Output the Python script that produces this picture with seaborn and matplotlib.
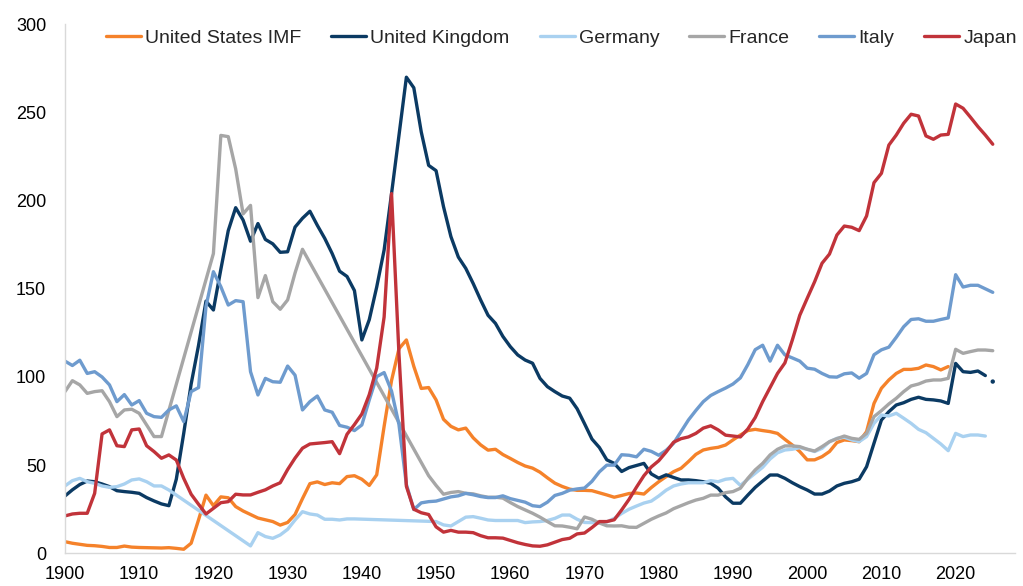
import numpy as np
import pandas as pd
import matplotlib
matplotlib.use("Agg")
import matplotlib.pyplot as plt
import seaborn as sns

nan = np.nan
years = list(range(1900, 2026))

us = [6.6, 5.7, 5.1, 4.5, 4.3, 3.9, 3.3, 3.3, 4.1, 3.5,
      3.3, 3.2, 3.1, 3.0, 3.2, 2.8, 2.3, 5.7, 19.0, 33.0,
      27.0, 32.0, 31.5, 26.5, 24.0, 22.0, 20.0, 19.0, 18.0, 16.0,
      17.5, 22.0, 31.0, 39.5, 40.5, 39.0, 40.0, 39.5, 43.5, 44.0,
      42.0, 38.5, 44.5, 72.0, 98.0, 116.0, 121.0, 106.0, 93.5, 94.0,
      87.0, 76.0, 72.0, 70.0, 71.0, 65.5, 61.5, 58.5, 59.0, 56.0,
      53.8, 51.5, 49.5, 48.3, 46.0, 42.8, 39.8, 37.9, 36.4, 35.7,
      35.7, 35.5, 34.3, 33.1, 31.8, 32.8, 33.9, 34.2, 33.6, 37.3,
      40.6, 43.5, 46.3, 48.2, 52.0, 56.1, 58.6, 59.5, 60.1, 61.4,
      64.3, 67.1, 69.6, 70.3, 69.6, 69.0, 68.0, 64.6, 61.4, 57.7,
      53.0, 53.0, 54.8, 57.7, 62.8, 64.3, 63.9, 63.3, 69.0, 85.0,
      93.6, 98.3, 102.0, 104.3, 104.3, 104.9, 106.8, 105.9, 104.0, 105.9,
      nan, nan, nan, nan, nan, nan]

uk = [32.5, 36.0, 39.0, 41.0, 40.6, 39.3, 37.8, 35.5, 35.0, 34.6,
      34.0, 31.6, 29.7, 28.0, 27.0, 42.0, 68.0, 96.0, 118.0, 143.0,
      138.0, 161.0, 183.0, 196.0, 189.0, 177.0, 187.0, 178.0, 175.5, 170.7,
      171.0, 185.0, 190.0, 194.0, 186.0, 178.6, 170.0, 160.0, 157.0, 149.0,
      121.0, 132.5, 151.0, 172.0, 204.0, 237.0, 270.0, 264.0, 239.0, 220.0,
      217.0, 196.6, 179.6, 168.0, 161.6, 153.0, 143.7, 135.0, 130.4, 123.0,
      117.2, 112.5, 109.6, 107.8, 99.2, 94.5, 91.7, 89.2, 88.0, 82.0,
      73.5, 64.8, 60.0, 53.0, 51.0, 46.4, 48.6, 49.8, 51.0, 45.0,
      42.6, 44.5, 43.0, 41.6, 41.6, 41.2, 40.6, 39.7, 36.9, 32.0,
      28.4, 28.4, 33.0, 37.4, 41.0, 44.4, 44.4, 42.5, 40.0, 37.8,
      35.9, 33.6, 33.6, 35.3, 38.2, 39.7, 40.6, 42.0, 49.1, 62.4,
      75.6, 80.3, 84.1, 85.4, 87.3, 88.5, 87.3, 87.0, 86.4, 85.0,
      107.7, 103.0, 102.6, 103.4, 100.8, 97.4]

germany = [38.2, 41.2, 42.5, 40.6, 39.7, 38.2, 37.4, 37.8, 39.3, 41.6,
           42.2, 40.6, 38.2, 38.2, 35.9, nan, nan, nan, nan, nan,
           nan, nan, nan, nan, nan, 4.2, 11.7, 9.5, 8.5, 10.4,
           13.6, 18.9, 23.6, 22.3, 21.7, 19.3, 19.3, 18.9, 19.5, 19.5,
           nan, nan, nan, nan, nan, nan, nan, nan, nan, nan,
           18.0, 16.1, 15.5, 18.0, 20.5, 20.8, 19.9, 18.9, 18.6, 18.6,
           18.6, 18.6, 17.4, 17.8, 18.0, 18.6, 19.8, 21.7, 21.7, 19.3,
           17.5, 17.4, 17.2, 17.8, 19.8, 22.6, 25.0, 26.8, 28.5, 29.6,
           32.5, 35.8, 38.2, 39.3, 40.0, 40.0, 40.0, 41.2, 40.6, 42.0,
           42.5, 38.5, 42.0, 45.4, 48.8, 53.5, 57.0, 58.6, 59.0, 59.9,
           59.0, 57.7, 59.5, 63.3, 65.2, 65.8, 64.3, 63.3, 66.2, 73.7,
           78.4, 77.9, 79.4, 76.6, 73.7, 70.3, 68.4, 65.2, 62.0, 58.2,
           68.0, 66.2, 67.1, 67.1, 66.5, nan]

france = [91.7, 97.9, 95.5, 90.7, 91.7, 92.2, 86.0, 77.5, 81.3, 81.7,
          79.4, 72.8, 66.2, 66.2, nan, nan, nan, nan, nan, nan,
          170.0, 237.0, 236.3, 218.0, 192.5, 197.3, 145.0, 157.5, 142.7, 138.4,
          143.7, 159.0, 172.4, nan, nan, nan, nan, nan, nan, nan,
          nan, nan, nan, nan, nan, nan, nan, nan, nan, 44.0,
          38.5, 33.5, 34.5, 35.0, 34.0, 33.7, 32.6, 31.8, 31.8, 31.3,
          28.8, 26.5, 24.6, 22.7, 20.5, 18.0, 15.6, 15.5, 14.8, 13.9,
          20.6, 19.3, 17.2, 15.6, 15.5, 15.6, 14.8, 14.7, 17.0, 19.3,
          21.2, 22.9, 25.3, 27.0, 28.7, 30.2, 31.2, 33.0, 33.0, 34.4,
          35.0, 36.9, 42.5, 47.3, 51.0, 55.8, 59.0, 60.9, 60.9, 60.5,
          59.0, 58.0, 60.5, 63.3, 65.0, 66.5, 65.2, 64.6, 68.0, 77.5,
          80.9, 84.7, 87.9, 91.7, 94.9, 96.0, 97.7, 98.3, 98.3, 99.2,
          115.7, 113.4, 114.4, 115.3, 115.3, 114.9]

italy = [109.0, 106.5, 109.5, 102.0, 103.0, 100.0, 95.5, 86.0, 90.0, 84.1,
         86.6, 79.4, 77.5, 77.1, 81.3, 83.6, 74.7, 91.7, 94.0, 140.0,
         159.7, 151.2, 140.8, 143.3, 142.7, 103.0, 89.8, 99.2, 97.3, 97.0,
         106.2, 101.0, 81.3, 86.0, 89.2, 81.3, 80.0, 72.5, 71.5, 69.6,
         72.8, 87.0, 100.2, 102.5, 92.0, 73.0, 39.0, 24.8, 28.6, 29.3,
         29.6, 30.8, 32.0, 32.6, 34.0, 33.2, 32.2, 31.6, 31.6, 32.6,
         31.0, 30.0, 29.0, 27.0, 26.5, 29.0, 32.8, 34.0, 35.8, 36.5,
         37.0, 40.8, 46.2, 50.0, 50.0, 55.9, 55.6, 54.7, 59.0, 57.8,
         55.6, 58.4, 62.4, 69.0, 75.6, 81.0, 86.0, 89.5, 91.7, 93.7,
         96.0, 99.5, 107.0, 115.5, 118.0, 109.0, 118.0, 112.5, 110.8, 109.0,
         105.0, 104.4, 102.0, 100.1, 99.9, 101.8, 102.3, 99.3, 102.0, 112.6,
         115.4, 116.9, 122.5, 128.5, 132.6, 133.0, 131.6, 131.6, 132.6, 133.5,
         158.0, 151.0, 152.0, 152.0, 150.0, 148.0]

japan = [21.2, 22.3, 22.7, 22.7, 34.0, 67.7, 70.0, 61.0, 60.5, 70.0,
         70.5, 61.0, 57.7, 53.9, 55.8, 52.9, 42.5, 33.5, 27.8, 22.3,
         25.5, 28.7, 29.3, 33.5, 33.1, 33.1, 34.6, 36.0, 38.2, 40.0,
         47.5, 54.0, 59.6, 62.0, 62.4, 62.8, 63.3, 56.5, 67.5, 73.0,
         79.0, 90.0, 105.0, 134.0, 204.0, 113.0, 38.0, 25.0, 23.0, 22.0,
         15.0, 12.0, 13.0, 12.0, 12.0, 11.7, 10.0, 8.8, 8.8, 8.6,
         7.3, 6.0, 5.0, 4.2, 4.0, 4.8, 6.3, 7.8, 8.5, 11.0,
         11.5, 14.6, 18.0, 18.0, 19.0, 24.6, 30.6, 37.5, 44.0, 49.0,
         52.5, 57.5, 63.0, 65.0, 66.0, 68.0, 71.0, 72.3, 70.0, 67.0,
         66.5, 66.0, 70.5, 77.0, 86.0, 94.0, 102.0, 108.0, 121.0, 135.0,
         144.6, 154.0, 164.5, 169.7, 180.5, 185.6, 184.9, 183.0, 191.3, 210.2,
         215.5, 231.5, 237.2, 243.9, 249.0, 248.0, 236.7, 234.8, 237.2, 237.6,
         254.8, 252.4, 247.3, 242.0, 237.2, 232.0]

names = ["United States IMF", "United Kingdom", "Germany", "France", "Italy", "Japan"]
series = [us, uk, germany, france, italy, japan]
colors = ["#F5822A", "#0B3A63", "#A9D1F0", "#A6A6A6", "#6E9BCE", "#C1333A"]

x_ticks = list(range(1900, 2021, 10))
y_ticks = list(range(0, 301, 50))

rows = []
for name, vals in zip(names, series):
    for yr, v in zip(years, vals):
        rows.append({"series": name, "year": yr, "value": v})
df = pd.DataFrame(rows)

sns.set_theme(style="white")
plt.rcParams["font.family"] = ["Liberation Sans", "DejaVu Sans"]
plt.rcParams["lines.solid_capstyle"] = "round"
plt.rcParams["lines.solid_joinstyle"] = "round"

fig = plt.figure(figsize=(10.23, 5.86), dpi=100)
ax = fig.add_axes([0.0635, 0.0558, 0.9287, 0.9027])

lw = 2.4
for name, color in zip(names, colors):
    sub = df[df["series"] == name].dropna()
    if name == "United Kingdom":
        main = sub.iloc[:-1]
        last = sub.iloc[-1:]
        sns.lineplot(data=main, x="year", y="value", color=color, lw=lw, ax=ax,
                     label=name, estimator=None, sort=False)
        sns.scatterplot(data=last, x="year", y="value", color=color, s=10,
                        edgecolor="none", ax=ax, legend=False, zorder=3)
    else:
        sns.lineplot(data=sub, x="year", y="value", color=color, lw=lw, ax=ax,
                     label=name, estimator=None, sort=False)

ax.set_xlim(1900, 2028)
ax.set_ylim(0, 300)
ax.set_xticks(x_ticks)
ax.set_yticks(y_ticks)
ax.set_xlabel("")
ax.set_ylabel("")
for s in ["top", "right"]:
    ax.spines[s].set_visible(False)
for s in ["left", "bottom"]:
    ax.spines[s].set_color("#D9D9D9")
    ax.spines[s].set_linewidth(1.0)
ax.tick_params(axis="both", which="major", direction="out", length=4.5, width=1.0,
               color="#D9D9D9", labelcolor="black", labelsize=13)
ax.tick_params(axis="y", pad=9)
ax.tick_params(axis="x", pad=5)
ax.grid(False)

leg = ax.legend(loc="center", bbox_to_anchor=(0.5226, 0.974), ncol=6, frameon=False,
                fontsize=14, handlelength=1.8, handletextpad=0.2, columnspacing=1.55,
                borderaxespad=0)
for line in leg.get_lines():
    line.set_linewidth(lw)

fig.savefig("out.png", dpi=100)
